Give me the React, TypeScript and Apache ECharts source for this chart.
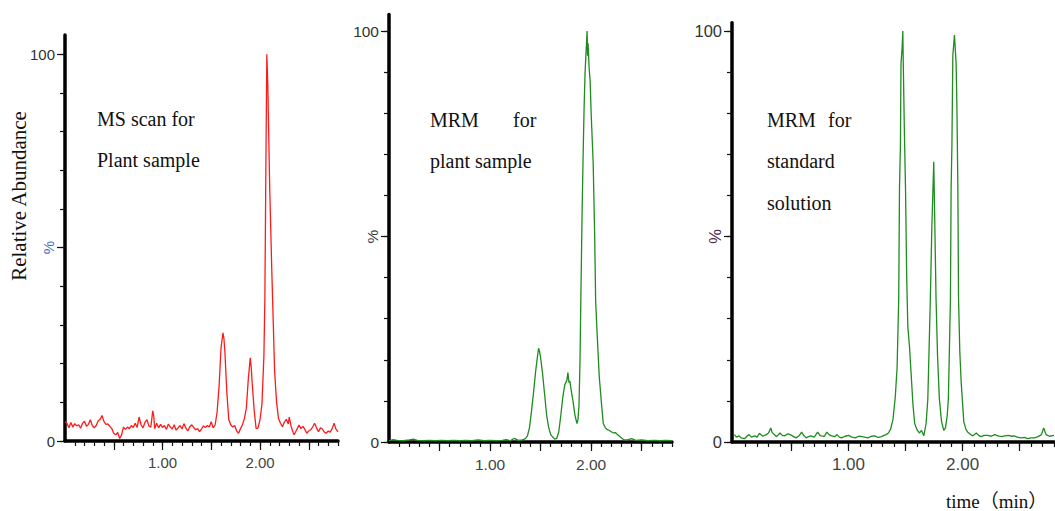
import React, { useEffect, useRef } from "react";
import * as echarts from "echarts";

// ---- data (time in min, relative abundance in %) ----
const msScanPlant: [number, number][] = [
  [0.0, 5.0], [0.02, 4.6], [0.04, 3.4], [0.06, 4.8], [0.08, 3.6], [0.1, 4.5], [0.12, 3.9], [0.14, 4.2],
  [0.16, 3.3], [0.18, 4.6], [0.2, 5.1], [0.22, 3.8], [0.24, 4.3], [0.26, 5.5], [0.28, 4.0], [0.3, 3.4],
  [0.32, 4.0], [0.34, 5.2], [0.36, 5.6], [0.38, 6.6], [0.4, 5.0], [0.42, 4.3], [0.44, 4.4], [0.46, 3.8],
  [0.48, 3.2], [0.5, 2.0], [0.52, 1.6], [0.54, 2.2], [0.56, 0.7], [0.58, 1.5], [0.6, 3.6], [0.62, 3.0],
  [0.64, 3.6], [0.66, 3.2], [0.68, 4.0], [0.7, 3.5], [0.72, 4.6], [0.74, 3.5], [0.76, 6.2], [0.78, 4.2],
  [0.8, 3.4], [0.82, 4.8], [0.84, 5.5], [0.86, 3.9], [0.88, 3.6], [0.9, 7.8], [0.91, 6.5], [0.92, 3.2],
  [0.94, 4.6], [0.96, 3.4], [0.98, 4.3], [1.0, 3.5], [1.02, 4.0], [1.04, 3.0], [1.06, 4.4], [1.08, 3.6],
  [1.1, 3.1], [1.12, 4.2], [1.14, 2.8], [1.16, 3.4], [1.18, 4.0], [1.2, 3.1], [1.22, 4.5], [1.24, 3.3],
  [1.26, 2.6], [1.28, 3.7], [1.3, 4.2], [1.32, 3.5], [1.34, 2.9], [1.36, 3.2], [1.38, 2.4], [1.4, 3.1],
  [1.42, 3.9], [1.44, 3.5], [1.46, 4.0], [1.48, 3.6], [1.5, 5.0], [1.52, 3.4], [1.54, 4.2], [1.56, 7.5],
  [1.58, 14.0], [1.6, 24.0], [1.62, 28.0], [1.63, 26.5], [1.64, 23.0], [1.66, 12.5], [1.68, 5.5], [1.7, 4.2],
  [1.72, 3.6], [1.74, 4.0], [1.76, 2.6], [1.78, 2.0], [1.8, 3.2], [1.82, 4.2], [1.84, 5.8], [1.86, 8.5],
  [1.88, 16.0], [1.9, 21.5], [1.91, 19.0], [1.92, 15.0], [1.94, 8.0], [1.96, 3.2], [1.98, 3.4], [2.0, 5.5],
  [2.02, 9.5], [2.04, 22.0], [2.05, 37.0], [2.06, 70.0], [2.07, 100], [2.08, 92.0], [2.1, 65.0], [2.12, 45.0],
  [2.13, 36.0], [2.15, 18.0], [2.17, 10.0], [2.19, 5.8], [2.21, 4.6], [2.23, 3.7], [2.25, 4.9], [2.27, 5.6],
  [2.29, 4.4], [2.3, 6.2], [2.32, 3.7], [2.34, 2.2], [2.35, 1.6], [2.37, 2.6], [2.4, 4.1], [2.42, 3.2],
  [2.44, 3.8], [2.46, 3.0], [2.48, 2.0], [2.5, 2.6], [2.52, 2.9], [2.54, 3.6], [2.56, 4.6], [2.58, 3.4],
  [2.6, 2.4], [2.62, 3.4], [2.64, 3.1], [2.66, 2.3], [2.68, 2.0], [2.7, 2.6], [2.72, 2.3], [2.74, 3.2],
  [2.76, 4.6], [2.78, 3.0], [2.8, 2.4],
];

const mrmPlant: [number, number][] = [
  [0.0, 0.3], [0.04, 0.6], [0.08, 0.4], [0.14, 0.3], [0.2, 0.5], [0.24, 0.7], [0.28, 0.4], [0.34, 0.3],
  [0.4, 0.4], [0.46, 0.3], [0.52, 0.4], [0.58, 0.3], [0.64, 0.4], [0.7, 0.3], [0.76, 0.4], [0.82, 0.3],
  [0.88, 0.5], [0.94, 0.3], [1.0, 0.4], [1.06, 0.3], [1.12, 0.4], [1.16, 0.6], [1.2, 0.3], [1.24, 0.9],
  [1.28, 0.4], [1.32, 0.5], [1.35, 0.8], [1.37, 1.5], [1.39, 3.5], [1.41, 7.5], [1.43, 12.0], [1.45, 17.0],
  [1.47, 21.0], [1.48, 22.8], [1.49, 22.0], [1.5, 20.5], [1.52, 16.5], [1.54, 11.5], [1.56, 6.5], [1.58, 3.5],
  [1.6, 1.8], [1.62, 1.2], [1.64, 0.7], [1.66, 0.9], [1.68, 2.5], [1.7, 6.5], [1.72, 11.0], [1.74, 14.0],
  [1.76, 15.0], [1.77, 16.9], [1.78, 14.5], [1.79, 14.8], [1.8, 13.0], [1.82, 10.0], [1.84, 6.5], [1.86, 4.5],
  [1.87, 5.5], [1.88, 9.0], [1.89, 20.0], [1.9, 38.0], [1.91, 55.0], [1.92, 69.0], [1.93, 81.0], [1.94, 90.0],
  [1.95, 95.0], [1.96, 100], [1.965, 94.0], [1.97, 97.0], [1.98, 91.0], [1.99, 88.0], [2.0, 80.0], [2.02, 68.0],
  [2.035, 50.0], [2.045, 34.0], [2.06, 26.0], [2.08, 16.0], [2.1, 10.0], [2.12, 4.5], [2.14, 3.5], [2.16, 3.0],
  [2.18, 2.8], [2.2, 2.5], [2.22, 2.2], [2.24, 2.3], [2.26, 1.8], [2.28, 1.4], [2.3, 1.0], [2.32, 0.6],
  [2.36, 0.5], [2.4, 0.8], [2.44, 0.4], [2.5, 0.5], [2.56, 0.3], [2.62, 0.4], [2.68, 0.3], [2.74, 0.4],
  [2.8, 0.3],
];

const mrmStandard: [number, number][] = [
  [0.0, 1.8], [0.02, 1.2], [0.04, 1.5], [0.06, 1.0], [0.09, 0.8], [0.11, 1.4], [0.13, 1.8], [0.15, 1.2],
  [0.18, 1.5], [0.2, 1.2], [0.22, 2.1], [0.25, 1.4], [0.28, 1.8], [0.3, 2.2], [0.32, 3.4], [0.33, 2.4],
  [0.35, 1.8], [0.37, 1.3], [0.4, 2.2], [0.42, 1.6], [0.44, 1.5], [0.47, 2.0], [0.49, 1.8], [0.52, 1.3],
  [0.54, 1.0], [0.57, 1.6], [0.59, 2.4], [0.61, 1.5], [0.63, 1.0], [0.65, 1.3], [0.67, 1.5], [0.7, 1.2],
  [0.73, 2.4], [0.75, 1.6], [0.76, 1.5], [0.79, 1.4], [0.81, 2.4], [0.83, 1.8], [0.85, 1.5], [0.88, 1.3],
  [0.9, 1.8], [0.92, 1.2], [0.94, 1.0], [0.97, 1.4], [1.0, 1.6], [1.03, 1.2], [1.06, 1.0], [1.09, 1.4],
  [1.12, 1.3], [1.15, 1.1], [1.17, 1.0], [1.2, 1.4], [1.23, 1.5], [1.26, 1.1], [1.29, 1.3], [1.31, 1.6],
  [1.33, 1.8], [1.35, 2.2], [1.37, 3.2], [1.39, 5.5], [1.41, 11.0], [1.426, 18.2], [1.44, 34.8], [1.447, 62.0],
  [1.455, 72.0], [1.46, 92.0], [1.47, 96.0], [1.476, 100], [1.48, 92.0], [1.49, 75.0], [1.5, 61.0], [1.51, 40.0],
  [1.52, 28.0], [1.535, 23.0], [1.55, 16.0], [1.565, 9.0], [1.58, 4.5], [1.6, 3.0], [1.62, 2.2], [1.64, 2.8],
  [1.66, 1.5], [1.68, 4.5], [1.695, 10.5], [1.717, 34.8], [1.73, 52.0], [1.747, 68.2], [1.755, 55.0], [1.767, 34.8],
  [1.78, 21.0], [1.796, 10.5], [1.815, 5.0], [1.835, 2.8], [1.85, 3.5], [1.865, 6.5], [1.875, 10.5], [1.893, 34.8],
  [1.899, 62.0], [1.906, 72.0], [1.914, 94.0], [1.928, 99.0], [1.943, 92.0], [1.95, 81.0], [1.958, 62.0], [1.964, 34.8],
  [1.975, 22.0], [1.987, 14.6], [2.01, 4.9], [2.03, 3.0], [2.045, 2.4], [2.07, 1.8], [2.09, 1.5], [2.12, 2.2],
  [2.14, 1.6], [2.16, 1.3], [2.19, 1.6], [2.22, 1.6], [2.25, 1.4], [2.28, 1.8], [2.31, 1.5], [2.34, 1.3],
  [2.37, 1.5], [2.4, 1.6], [2.43, 1.4], [2.45, 1.5], [2.48, 1.2], [2.51, 1.0], [2.54, 1.1], [2.57, 0.8],
  [2.6, 1.0], [2.63, 1.0], [2.66, 1.3], [2.69, 1.8], [2.71, 3.4], [2.73, 1.8], [2.76, 1.4], [2.78, 1.5],
  [2.8, 1.6],
];

// ---- axis ticks and labels ----
const xLabelValues = [1, 2];
const xMajorTicks = [0.5, 1, 1.5, 2, 2.5];
const xMinorTicks = [
  0.1, 0.2, 0.3, 0.4, 0.5, 0.6, 0.7, 0.8, 0.9, 1.0, 1.1, 1.2, 1.3, 1.4,
  1.5, 1.6, 1.7, 1.8, 1.9, 2.0, 2.1, 2.2, 2.3, 2.4, 2.5, 2.6, 2.7, 2.8,
];
const yLabelValues = [0, 100];
const yMajorTicks = [0, 50, 100];
const yMinorTicks = [0, 10, 20, 30, 40, 50, 60, 70, 80, 90, 100];
const yMidLabel = "%";

type Panel = {
  data: [number, number][];
  color: string;
  left: number;
  top: number;
  width: number;
  height: number;
  xMin: number;
  xMax: number;
  yMax: number;
  yFont: number;
  xFont: number;
  pctColor: string;
};

const panels: Panel[] = [
  { data: msScanPlant, color: "#ff1a1a", left: 65, top: 35, width: 273, height: 406, xMin: 0, xMax: 2.8, yMax: 105, yFont: 15, xFont: 15, pctColor: "#3d6fc2" },
  { data: mrmPlant, color: "#1e8c1e", left: 389, top: 14.6, width: 283, height: 427.4, xMin: 0, xMax: 2.8, yMax: 104, yFont: 15.5, xFont: 15.5, pctColor: "#3a3a3a" },
  { data: mrmStandard, color: "#1e8c1e", left: 732, top: 22.8, width: 322, height: 419.2, xMin: -0.02, xMax: 2.8, yMax: 102, yFont: 16.5, xFont: 17, pctColor: "#4a2a4a" },
];

const SERIF = "'Liberation Serif', 'Times New Roman', serif";
const SANS = "'Liberation Sans', Arial, sans-serif";

export default function App() {
  const ref = useRef<HTMLDivElement>(null);

  useEffect(() => {
    if (!ref.current) return;
    const chart = echarts.init(ref.current, undefined, { renderer: "svg" });

    const grid: any[] = [];
    const xAxis: any[] = [];
    const yAxis: any[] = [];
    const series: any[] = [];

    panels.forEach((p, i) => {
      grid.push({ left: p.left, top: p.top, width: p.width, height: p.height, containLabel: false });
      xAxis.push({
        type: "value", gridIndex: i, min: p.xMin, max: p.xMax, position: "bottom",
        axisLine: { show: true, onZero: false, lineStyle: { color: "#000", width: 3.5 } },
        axisTick: { show: true, customValues: xMinorTicks, length: 5, lineStyle: { color: "#111", width: 1.2 } },
        axisLabel: { show: true, customValues: xLabelValues, formatter: (v: number) => v.toFixed(2), margin: 14, color: "#444", fontSize: p.xFont, fontFamily: SANS },
        splitLine: { show: false },
      });
      xAxis.push({
        type: "value", gridIndex: i, min: p.xMin, max: p.xMax, position: "bottom",
        axisLine: { show: false, onZero: false },
        axisTick: { show: true, customValues: xMajorTicks, length: 9, lineStyle: { color: "#111", width: 1.2 } },
        axisLabel: { show: false },
        splitLine: { show: false },
      });
      yAxis.push({
        type: "value", gridIndex: i, min: 0, max: p.yMax, position: "left",
        axisLine: { show: true, onZero: false, lineStyle: { color: "#000", width: 3.5 } },
        axisTick: { show: true, customValues: yMinorTicks, length: 5, lineStyle: { color: "#111", width: 1.2 } },
        axisLabel: { show: true, customValues: yLabelValues, formatter: (v: number) => String(v), margin: 10, color: "#333", fontSize: p.yFont, fontFamily: SANS },
        splitLine: { show: false },
      });
      yAxis.push({
        type: "value", gridIndex: i, min: 0, max: p.yMax, position: "left",
        axisLine: { show: false, onZero: false },
        axisTick: { show: true, customValues: yMajorTicks, length: 8, lineStyle: { color: "#111", width: 1.2 } },
        axisLabel: { show: true, customValues: [50], formatter: () => yMidLabel, rotate: 90, margin: 9, color: p.pctColor, fontSize: p.yFont, fontFamily: SANS },
        splitLine: { show: false },
      });
      series.push({
        type: "line", xAxisIndex: 2 * i, yAxisIndex: 2 * i, data: p.data,
        showSymbol: false, symbol: "none", smooth: false,
        lineStyle: { color: p.color, width: 1.3 }, silent: true,
      });
    });

    const textStyle = (text: string, size = 20) => ({
      text, fontFamily: SERIF, fontSize: size, fill: "#111", align: "left", verticalAlign: "middle",
    });

    const graphic: any[] = [
      { type: "text", x: 19, y: 196, rotation: Math.PI / 2, style: { ...textStyle("Relative Abundance", 21), align: "center" } },
      { type: "text", x: 97, y: 119, style: textStyle("MS scan for") },
      { type: "text", x: 97, y: 160, style: textStyle("Plant sample") },
      { type: "text", x: 430, y: 120, style: textStyle("MRM") },
      { type: "text", x: 513, y: 120, style: textStyle("for") },
      { type: "text", x: 430, y: 161, style: textStyle("plant sample") },
      { type: "text", x: 767, y: 120, style: textStyle("MRM") },
      { type: "text", x: 828, y: 120, style: textStyle("for") },
      { type: "text", x: 767, y: 161, style: textStyle("standard") },
      { type: "text", x: 767, y: 203, style: textStyle("solution") },
      { type: "text", x: 946, y: 501, style: { ...textStyle("time（min）", 19), fontFamily: "'Liberation Serif', 'Noto Sans CJK SC', serif" } },
    ];

    chart.setOption({
      animation: false,
      backgroundColor: "#ffffff",
      grid, xAxis, yAxis, series, graphic,
    });

    return () => chart.dispose();
  }, []);

  return (
    <div
      ref={ref}
      style={{ position: "absolute", left: 0, top: 0, width: 1055, height: 511, background: "#fff" }}
    />
  );
}
